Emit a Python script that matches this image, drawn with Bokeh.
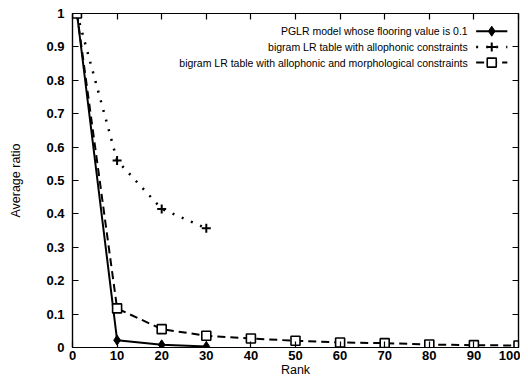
from bokeh.plotting import figure
from bokeh.models import Range1d, LinearAxis, FixedTicker, Label
from bokeh.embed import file_html
from bokeh.resources import INLINE

# ---- data ----
rank_pglr = [1, 10, 20, 30]
ratio_pglr = [1.0, 0.022, 0.008, 0.003]

rank_allo = [1, 10, 20, 30]
ratio_allo = [1.0, 0.56, 0.415, 0.357]

rank_morph = [1, 10, 20, 30, 40, 50, 60, 70, 80, 90, 100]
ratio_morph = [1.0, 0.117, 0.055, 0.035, 0.027, 0.020, 0.015, 0.013, 0.009, 0.007, 0.006]

series_names = [
    "PGLR model whose flooring value is 0.1",
    "bigram LR table with allophonic constraints",
    "bigram LR table with allophonic and morphological constraints",
]

x_ticks = [0, 10, 20, 30, 40, 50, 60, 70, 80, 90, 100]
y_ticks = [0, 0.1, 0.2, 0.3, 0.4, 0.5, 0.6, 0.7, 0.8, 0.9, 1]
y_tick_labels = ["0", "0.1", "0.2", "0.3", "0.4", "0.5", "0.6", "0.7", "0.8", "0.9", "1"]

FONT = "Liberation Sans"

p = figure(width=520, height=379, output_backend="svg", toolbar_location=None,
           x_range=Range1d(0, 100), y_range=Range1d(0, 1),
           min_border_left=72, min_border_right=2, min_border_top=13, min_border_bottom=30)
p.xgrid.visible = False
p.ygrid.visible = False
p.outline_line_color = "black"
p.outline_line_width = 1.2
p.background_fill_color = "white"
p.border_fill_color = "white"

def style_axis(ax):
    ax.axis_line_color = "black"
    ax.axis_line_width = 1.2
    ax.major_tick_in = 6
    ax.major_tick_out = 0
    ax.minor_tick_line_color = None
    ax.major_tick_line_color = "black"
    ax.major_tick_line_width = 1.2
    ax.major_label_text_font = FONT
    ax.major_label_text_font_size = "13px"
    ax.major_label_text_font_style = "bold"
    ax.major_label_text_color = "black"

xa = p.xaxis[0]
xa.ticker = FixedTicker(ticks=x_ticks)
style_axis(xa)
xa.major_label_standoff = 3
xa.axis_label = "Rank"
xa.axis_label_text_font = FONT
xa.axis_label_text_font_size = "12.5px"
xa.axis_label_text_font_style = "normal"
xa.axis_label_text_color = "black"
xa.axis_label_standoff = 0

ya = p.yaxis[0]
ya.ticker = FixedTicker(ticks=y_ticks)
ya.major_label_overrides = {t: l for t, l in zip(y_ticks, y_tick_labels)}
style_axis(ya)
ya.major_label_standoff = 8
ya.axis_label = "Average ratio"
ya.axis_label_text_font = FONT
ya.axis_label_text_font_size = "12.5px"
ya.axis_label_text_font_style = "normal"
ya.axis_label_text_color = "black"
ya.axis_label_standoff = 20

top = LinearAxis(ticker=FixedTicker(ticks=x_ticks))
style_axis(top)
top.major_label_overrides = {t: "" for t in x_ticks}
top.major_label_standoff = 0
p.add_layout(top, "above")
right = LinearAxis(ticker=FixedTicker(ticks=y_ticks))
style_axis(right)
right.major_label_overrides = {t: "" for t in y_ticks}
right.major_label_standoff = 0
p.add_layout(right, "right")

# series
p.line(rank_pglr, ratio_pglr, line_color="black", line_width=2)
p.scatter(rank_pglr, ratio_pglr, marker="diamond", size=10, fill_color="black", line_color="black")

p.line(rank_allo, ratio_allo, line_color="black", line_width=2.5, line_dash="2 8")
p.scatter(rank_allo, ratio_allo, marker="cross", size=9, line_color="black", line_width=2)

p.line(rank_morph, ratio_morph, line_color="black", line_width=2, line_dash="8 5")
p.scatter(rank_morph, ratio_morph, marker="square", size=9, fill_color="white", line_color="black", line_width=1.6)

# legend (gnuplot style: text right-aligned, sample on the right)
leg_text_x = 88.6
leg_x0, leg_x1, leg_xm = 90.5, 97.5, 94.0
leg_rows = [0.947, 0.9, 0.853]
styles = [
    dict(dash="solid", width=2, marker="diamond", size=10, fill="black", lw=1),
    dict(dash="2 8", width=2.5, marker="cross", size=9, fill="black", lw=2),
    dict(dash="8 5", width=2, marker="square", size=9, fill="white", lw=1.6),
]
for name, yy, st in zip(series_names, leg_rows, styles):
    p.add_layout(Label(x=leg_text_x, y=yy, text=name, text_align="right", text_baseline="middle",
                       text_font=FONT, text_font_size="10.5px", text_color="black"))
    p.line([leg_x0, leg_x1], [yy, yy], line_color="black", line_width=st["width"], line_dash=st["dash"])
    p.scatter([leg_xm], [yy], marker=st["marker"], size=st["size"], fill_color=st["fill"],
              line_color="black", line_width=st["lw"])

open("out.html", "w").write(file_html(p, INLINE))
